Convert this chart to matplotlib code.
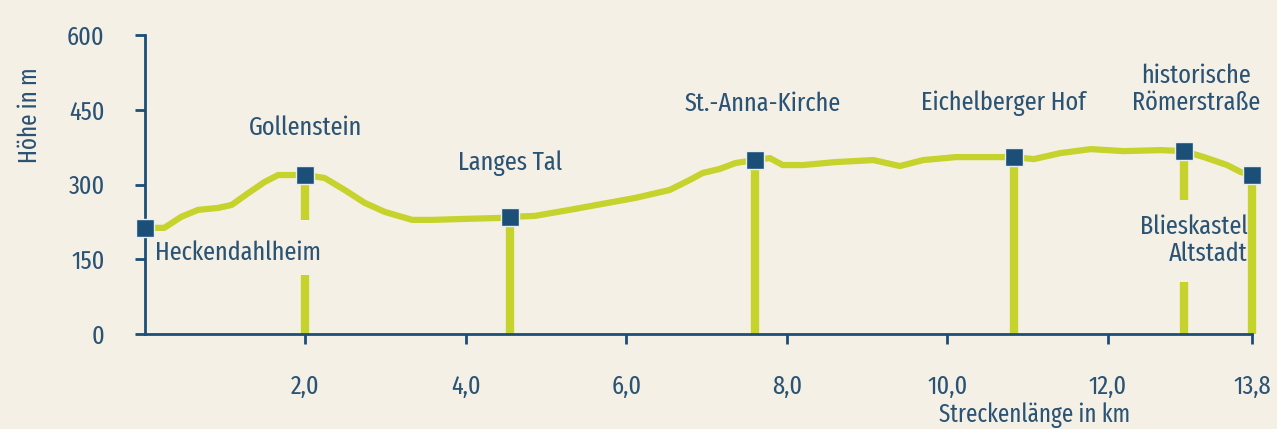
import matplotlib
matplotlib.use("Agg")
import matplotlib.pyplot as plt

# elevation profile (km, m)
dist = [0.0, 0.24, 0.45, 0.66, 0.91, 1.08, 1.29, 1.49, 1.66, 1.83, 2.0,
        2.24, 2.49, 2.74, 2.99, 3.33, 3.58, 3.99, 4.45, 4.55, 4.86, 5.29,
        5.70, 6.11, 6.54, 6.79, 6.95, 7.16, 7.36, 7.6, 7.79, 7.95, 8.2,
        8.61, 9.08, 9.41, 9.7, 10.11, 10.54, 10.83, 11.08, 11.41, 11.79,
        12.2, 12.66, 12.95, 13.2, 13.49, 13.66, 13.8]
elev = [213, 213, 235, 249, 253, 259, 283, 305, 319, 319, 319,
        313, 289, 263, 245, 229, 229, 231, 233, 235, 237, 249,
        261, 273, 289, 309, 323, 331, 343, 349, 353, 339, 339,
        345, 349, 337, 349, 355, 355, 355, 351, 363, 371,
        367, 369, 367, 355, 339, 325, 319]

# waypoints
stops = ["Heckendahlheim", "Gollenstein", "Langes Tal", "St.-Anna-Kirche",
         "Eichelberger Hof", "historische\nRömerstraße", "Blieskastel\nAltstadt"]
stop_km = [0.0, 2.0, 4.55, 7.6, 10.83, 12.95, 13.8]
stop_m = [213, 319, 235, 349, 355, 367, 319]

xticks = [2.0, 4.0, 6.0, 8.0, 10.0, 12.0, 13.8]
xticklabels = ["2,0", "4,0", "6,0", "8,0", "10,0", "12,0", "13,8"]
yticks = [0, 150, 300, 450, 600]

plt.rcParams['font.family'] = ['Fira Sans Extra Condensed', 'DejaVu Sans']

bg = "#f5f0e6"
green = "#c6d32c"
blue = "#1b4f78"
txt = "#2a5374"

fig = plt.figure(figsize=(12.77, 4.29), dpi=100, facecolor=bg)
ax = fig.add_axes([145 / 1277, 95 / 429, 1107 / 1277, 299 / 429])
ax.set_facecolor(bg)
ax.set_xlim(0, 13.8)
ax.set_ylim(0, 600)

# vertical bars, with gaps where labels sit
gaps = {1: (118, 229), 5: (104, 269)}
for i, (x, y) in enumerate(zip(stop_km, stop_m)):
    if i == 0:
        continue
    segs = [(0, gaps[i][0]), (gaps[i][1], y)] if i in gaps else [(0, y)]
    for lo, hi in segs:
        ax.plot([x, x], [lo, hi], color=green, lw=6, solid_capstyle="butt",
                zorder=2, clip_on=False)

ax.plot(dist, elev, color=green, lw=4.5, solid_capstyle="round", zorder=3,
        clip_on=False)
ax.plot(stop_km, stop_m, ls="none", marker="s", ms=13, mfc=blue,
        mec="#e8eef0", mew=1, zorder=5, clip_on=False)

fs = 19
ax.text(0.12, 163, stops[0], color=txt, fontsize=fs, ha="left", va="center")
ax.text(2.0, 414, stops[1], color=txt, fontsize=fs, ha="center", va="center")
ax.text(4.55, 343, stops[2], color=txt, fontsize=fs, ha="center", va="center")
ax.text(7.7, 463, stops[3], color=txt, fontsize=fs, ha="center", va="center")
ax.text(10.7, 463, stops[4], color=txt, fontsize=fs, ha="center", va="center")
ax.text(13.1, 491, stops[5], color=txt, fontsize=fs, ha="center", va="center",
        linespacing=1.1)
ax.text(13.75, 188, stops[6], color=txt, fontsize=fs, ha="right", va="center",
        linespacing=1.1)

for s in ["top", "right"]:
    ax.spines[s].set_visible(False)
for s in ["left", "bottom"]:
    ax.spines[s].set_color(blue)
    ax.spines[s].set_linewidth(2)

ax.set_xticks(xticks)
ax.set_xticklabels(xticklabels)
ax.set_yticks(yticks)
ax.tick_params(colors=blue, labelcolor=txt, labelsize=fs, length=7, width=2,
               direction="out")
ax.tick_params(axis="x", pad=22)
ax.tick_params(axis="y", pad=22)

fig.text(30 / 1277, 1 - 115 / 429, "Höhe in m", rotation=90, color=txt,
         fontsize=fs - 1, ha="center", va="center")
fig.text(1035 / 1277, 1 - 415 / 429, "Streckenlänge in km", color=txt,
         fontsize=fs - 1, ha="center", va="center")

fig.savefig("out.png", dpi=100, facecolor=bg)
